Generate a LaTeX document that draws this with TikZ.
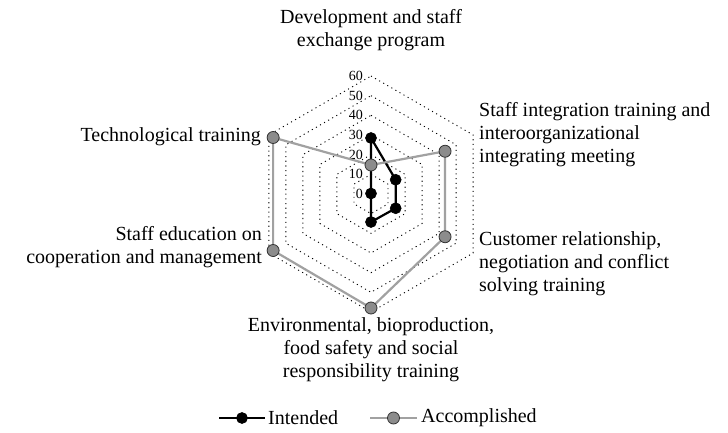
\documentclass[tikz,border=0pt]{standalone}
\usepackage{fontspec}
\setmainfont{Liberation Serif}
\begin{document}
\begin{tikzpicture}[x=1pt,y=1pt,
  lab/.style={font=\fontsize{20}{23}\selectfont, inner sep=0pt},
  ticklab/.style={font=\fontsize{14}{14}\selectfont, inner sep=0pt, anchor=east},
  ring/.style={black, line width=0.9pt, dash pattern=on 1.1pt off 3.6pt},
  intline/.style={black, line width=2.2pt, line join=round},
  accline/.style={black!37, line width=2.2pt, line join=round},
  intmark/.style={circle, fill=black, draw=black, line width=0.6pt, minimum size=11pt, inner sep=0pt},
  accmark/.style={circle, fill=black!45, draw=black!80, line width=0.8pt, minimum size=12pt, inner sep=0pt}]
\useasboundingbox (0,0) rectangle (728,432);
\coordinate (C) at (371,238);
\begin{scope}[shift={(C)}]
  % rings
  \foreach \v in {10,20,...,60}{
    \pgfmathsetmacro{\r}{\v*1.9667}
    \draw[ring] (90:\r) -- (30:\r) -- (-30:\r) -- (-90:\r) -- (-150:\r) -- (150:\r) -- cycle;
  }
  \foreach \v in {0,10,...,60}{
    \pgfmathsetmacro{\r}{\v*1.9667}
    \node[ticklab] (t\v) at (-8,\r) {\v};
  }
  % intended points
  \coordinate (i0) at (90:56);
  \coordinate (i1) at (30:28.5);
  \coordinate (i2) at (-30:28.5);
  \coordinate (i3) at (-90:28);
  \coordinate (i4) at (0,0.5);
  \coordinate (i5) at (0,0.5);
  % accomplished points
  \coordinate (a0) at (90:29);
  \coordinate (a1) at (30:85.5);
  \coordinate (a2) at (-30:85.5);
  \coordinate (a3) at (-90:114);
  \coordinate (a4) at (-150:113);
  \coordinate (a5) at (150:113);
\end{scope}
\draw[intline] (i0) -- (i1) -- (i2) -- (i3) -- (i4) -- (i5) -- cycle;
\foreach \k in {0,...,4}{ \node[intmark] (im\k) at (i\k) {}; }
\draw[accline] (a0) -- (a1) -- (a2) -- (a3) -- (a4) -- (a5) -- cycle;
\foreach \k in {0,...,5}{ \node[accmark] (am\k) at (a\k) {}; }
% category labels
\node[lab, align=center] (c0) at (371,401.5) {Development and staff\\exchange program};
\node[lab, align=left, anchor=west] (c1) at (479,297) {Staff integration training and\\interoorganizational\\integrating meeting};
\node[lab, align=left, anchor=west] (c2) at (479,168) {Customer relationship,\\negotiation and conflict\\solving training};
\node[lab, align=center] (c3) at (371,82) {Environmental, bioproduction,\\food safety and social\\responsibility training};
\node[lab, align=right, anchor=east] (c4) at (262,184.5) {Staff education on\\cooperation and management};
\node[lab, align=right, anchor=east] (c5) at (261,295) {Technological training};
% legend
\coordinate (l1a) at (219,14);
\coordinate (l1b) at (265,14);
\draw[intline] (l1a) -- (l1b);
\node[intmark] (lm1) at (242,14) {};
\node[lab, anchor=west] (lt1) at (268,14) {Intended};
\coordinate (l2a) at (370,14);
\coordinate (l2b) at (417,14);
\draw[accline] (l2a) -- (l2b);
\node[accmark] (lm2) at (393.5,14) {};
\node[lab, anchor=west] (lt2) at (421,14) {Accomplished};
\end{tikzpicture}
\end{document}
